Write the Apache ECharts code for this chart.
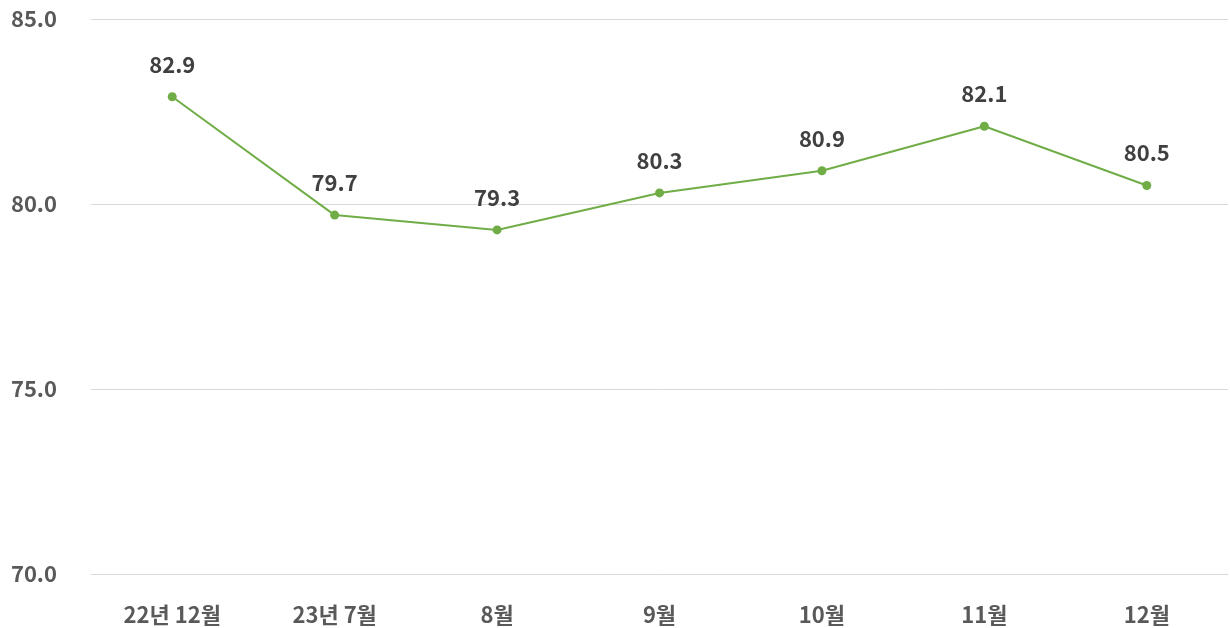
<!DOCTYPE html>
<html><head><meta charset="utf-8">
<script src="https://cdn.jsdelivr.net/npm/echarts@6/dist/echarts.min.js"></script>
<style>html,body{margin:0;padding:0;background:#fff}#c{width:1230px;height:628px}</style>
</head><body><div id="c"></div>
<script>
const categories = ['22년 12월', '23년 7월', '8월', '9월', '10월', '11월', '12월'];
const values = [82.9, 79.7, 79.3, 80.3, 80.9, 82.1, 80.5];
const yTicks = [70, 75, 80, 85];

const font = '"Noto Sans CJK KR", "Noto Sans", sans-serif';
const chart = echarts.init(document.getElementById('c'));
chart.setOption({
  animation: false,
  grid: { left: 91, right: 2, top: 19, bottom: 54 },
  xAxis: {
    type: 'category', data: categories, boundaryGap: true,
    axisLine: { lineStyle: { color: '#d9d9d9', width: 1 } },
    axisTick: { show: false },
    axisLabel: { margin: 30, color: '#595959', fontSize: 22, fontWeight: 'bold', fontFamily: font }
  },
  yAxis: {
    type: 'value', min: yTicks[0], max: yTicks[yTicks.length - 1], interval: 5,
    axisLine: { show: false }, axisTick: { show: false },
    splitLine: { lineStyle: { color: '#d9d9d9', width: 1 } },
    axisLabel: { margin: 34, color: '#595959', fontSize: 22, fontWeight: 'bold', fontFamily: font,
      formatter: v => v.toFixed(1) }
  },
  series: [{
    type: 'line', data: values,
    symbol: 'circle', symbolSize: 9,
    lineStyle: { color: '#70AD47', width: 2 },
    itemStyle: { color: '#70AD47' },
    label: { show: true, position: 'top', distance: 17, color: '#404040', fontSize: 22, fontWeight: 'bold', fontFamily: font,
      formatter: p => p.value.toFixed(1) }
  }]
});
</script></body></html>
